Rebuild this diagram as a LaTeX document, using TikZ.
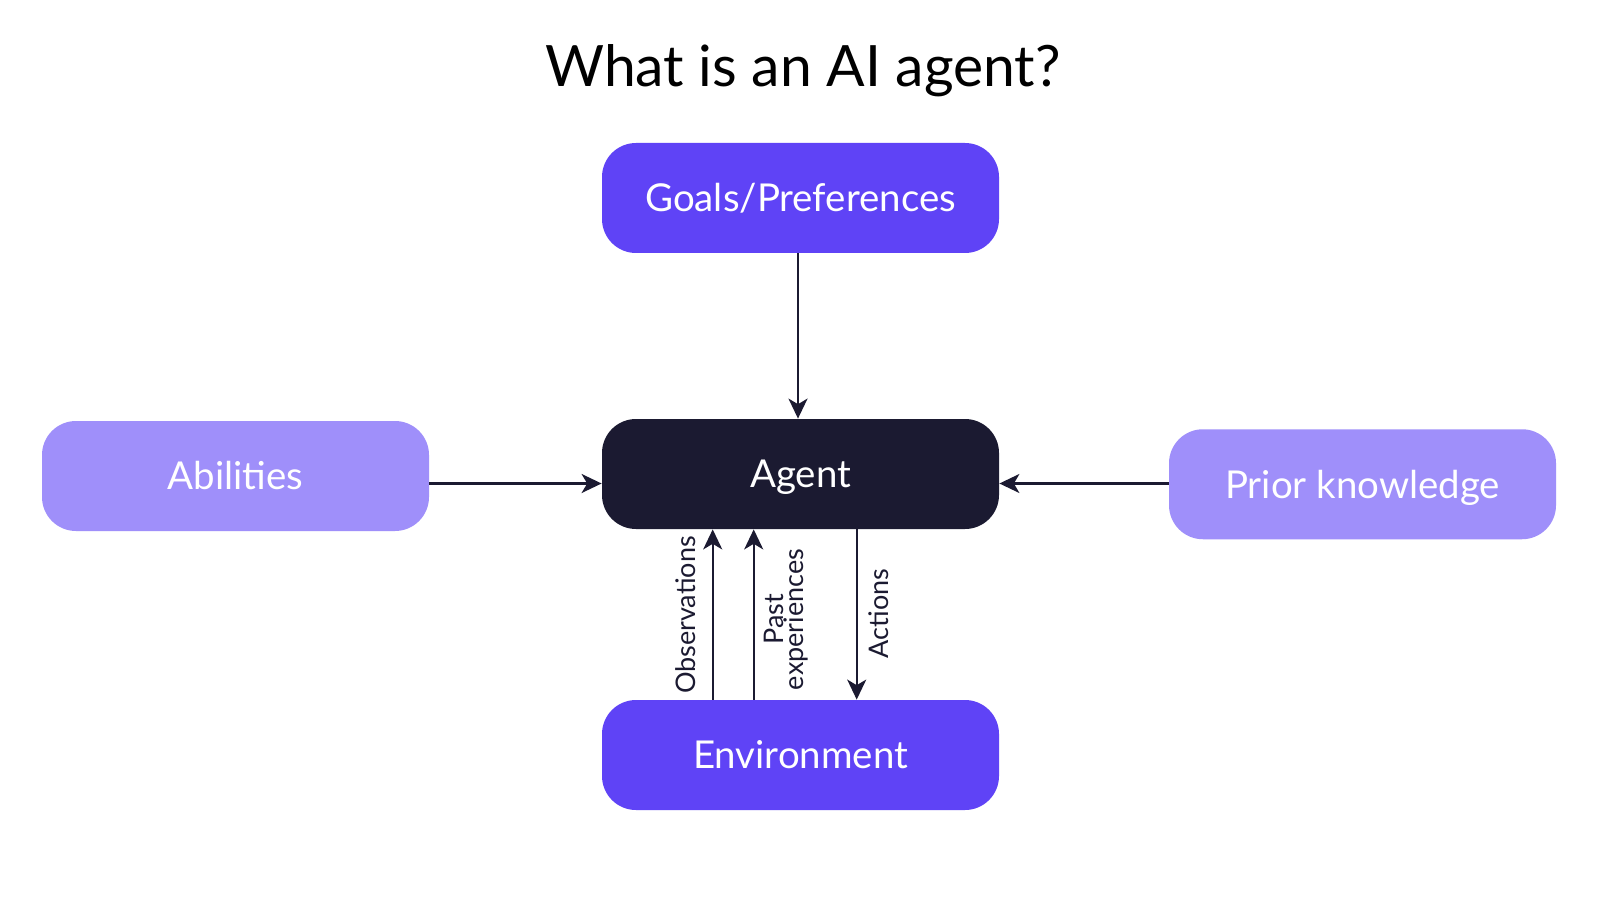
\documentclass[tikz,border=0pt]{standalone}
\usepackage{fontspec}
\setmainfont{Lato}
\usetikzlibrary{arrows.meta}
\definecolor{cPurple}{HTML}{5F43F6}
\definecolor{cLight}{HTML}{9F8FFA}
\definecolor{cDark}{HTML}{1B1A31}
\begin{document}
\begin{tikzpicture}[x=0.5pt,y=-0.5pt,
  box/.style={rounded corners=17pt, inner sep=0pt, minimum width=198.5pt,
    minimum height=55pt, text=white, font=\fontsize{19.2}{22}\selectfont,
    text height=13.75pt, text depth=0pt},
  arr/.style={draw=cDark, line width=1.1pt, -{Stealth[length=10pt,width=9.5pt,inset=2.8pt]}},
  lab/.style={rotate=90, text=cDark, font=\fontsize{13.5}{10}\selectfont,
    inner sep=0pt, align=center, anchor=north}]
\useasboundingbox[fill=white] (0,0) rectangle (1600,909);
\node[font=\fontsize{28.5}{34}\selectfont, text height=20.4pt, text depth=0pt, inner sep=0pt] (title) at (803,66.5) {What is an AI agent?};
\node[box, fill=cPurple] (goals) at (800.5,198) {Goals/Preferences};
\node[box, fill=cDark] (agent) at (800.5,474) {Agent};
\node[box, fill=cPurple] (env) at (800.5,755) {Environment};
\node[box, fill=cLight, minimum width=193.5pt] (abil) at (235.5,476) {Abilities};
\node[box, fill=cLight, minimum width=193.5pt] (prior) at (1362.5,484.25) {Prior knowledge};
\coordinate (gx) at (798,0);
\coordinate (hy) at (0,483.5);
\coordinate (ox) at (712.7,0);
\coordinate (px) at (753.7,0);
\coordinate (axx) at (856.7,0);
\draw[arr] (goals.south -| gx) -- (agent.north -| gx);
\draw[arr] (abil.east |- hy) -- (agent.west |- hy);
\draw[arr] (prior.west |- hy) -- (agent.east |- hy);
\draw[arr] (env.north -| ox) -- (agent.south -| ox);
\draw[arr] (env.north -| px) -- (agent.south -| px);
\draw[arr] (agent.south -| axx) -- (env.north -| axx);
\node[lab] (obs) at (675,615) {Observations};
\node[lab] (past) at (763.3,619.5) {Past\\experiences};
\node[lab] (act) at (868,613.5) {Actions};
\end{tikzpicture}
\end{document}
